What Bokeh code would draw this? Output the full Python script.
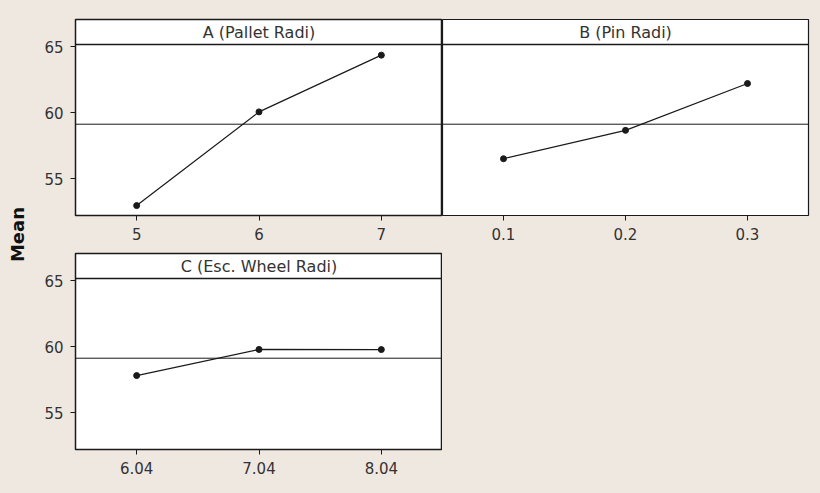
import numpy as np
from bokeh.plotting import figure
from bokeh.layouts import row, column
from bokeh.models import Span, Label, FixedTicker
from bokeh.embed import file_html
from bokeh.resources import INLINE

# Factor levels and mean response at each level
a_levels = [5, 6, 7]
a_means = [52.95, 60.05, 64.35]
b_levels = [0.1, 0.2, 0.3]
b_means = [56.5, 58.65, 62.2]
c_levels = [6.04, 7.04, 8.04]
c_means = [57.8, 59.78, 59.77]

panel_titles = ["A (Pallet Radi)", "B (Pin Radi)", "C (Esc. Wheel Radi)"]
y_ticks = [55, 60, 65]
y_label = "Mean"

grand_mean = float(np.mean(a_means))

BG = "#EFE8E1"
INK = "#1a1a1a"
TXT = "#333333"
FONT = "DejaVu Sans"
Y_RANGE = (52.2, 67.05)
STRIP_Y = 65.15


def blank(width, height):
    f = figure(width=width, height=height, x_range=(0, 1), y_range=(0, 1),
               output_backend="svg", toolbar_location=None,
               x_axis_location=None, y_axis_location=None, min_border=0)
    f.background_fill_color = BG
    f.border_fill_color = BG
    f.outline_line_color = None
    f.xgrid.visible = False
    f.ygrid.visible = False
    return f


def panel(levels, means, title, width, height, xr, show_y, mb, outline_w):
    p = figure(width=width, height=height, x_range=xr, y_range=Y_RANGE,
               output_backend="svg", toolbar_location=None,
               y_axis_location="left" if show_y else None,
               min_border_left=mb[0], min_border_right=mb[1],
               min_border_top=mb[2], min_border_bottom=mb[3])
    p.background_fill_color = "white"
    p.border_fill_color = BG
    p.outline_line_color = INK
    p.outline_line_width = outline_w
    p.xgrid.visible = False
    p.ygrid.visible = False

    for ax in p.xaxis:
        ax.ticker = FixedTicker(ticks=list(levels))
    if show_y:
        for ax in p.yaxis:
            ax.ticker = FixedTicker(ticks=y_ticks)
    for ax in list(p.xaxis) + list(p.yaxis):
        ax.axis_line_color = None
        ax.major_tick_in = 0
        ax.major_tick_out = 5
        ax.major_tick_line_color = INK
        ax.minor_tick_line_color = None
        ax.major_label_text_font = FONT
        ax.major_label_text_font_size = "15px"
        ax.major_label_text_color = TXT
        ax.major_label_standoff = 7

    # header strip and grand-mean reference
    p.add_layout(Span(location=STRIP_Y, dimension="width",
                      line_color=INK, line_width=1.5))
    p.add_layout(Span(location=grand_mean, dimension="width",
                      line_color=INK, line_width=1))
    p.add_layout(Label(x=(xr[0] + xr[1]) / 2, y=(STRIP_Y + Y_RANGE[1]) / 2,
                       text=title, text_align="center",
                       text_baseline="middle", text_font=FONT,
                       text_font_size="16px", text_color=TXT))

    p.line(levels, means, line_color=INK, line_width=1.2)
    p.scatter(levels, means, size=6, fill_color=INK, line_color=INK)
    return p


pa = panel(a_levels, a_means, panel_titles[0], 412, 245, (4.5, 7.5), True,
           (45, 0, 19, 30), 1.5)
pb = panel(b_levels, b_means, panel_titles[1], 378, 245, (0.05, 0.35), False,
           (0, 12, 19, 30), 1.2)
pc = panel(c_levels, c_means, panel_titles[2], 412, 248, (5.54, 8.54), True,
           (45, 0, 8, 44), 1.5)
filler = blank(378, 248)

# narrow strip carrying the shared y-axis title
side = blank(30, 493)
side.add_layout(Label(x=17, y=259, x_units="screen", y_units="screen",
                      text=y_label, angle=np.pi / 2, text_align="center",
                      text_baseline="middle", text_font=FONT,
                      text_font_size="18px", text_font_style="bold",
                      text_color="#111111"))

layout = row(side, column(row(pa, pb), row(pc, filler)))

page_style = """
{% block preamble %}
<style>html, body { background: #EFE8E1; margin: 0; }</style>
{% endblock %}
"""
open("out.html", "w").write(file_html(layout, INLINE, template=page_style))
